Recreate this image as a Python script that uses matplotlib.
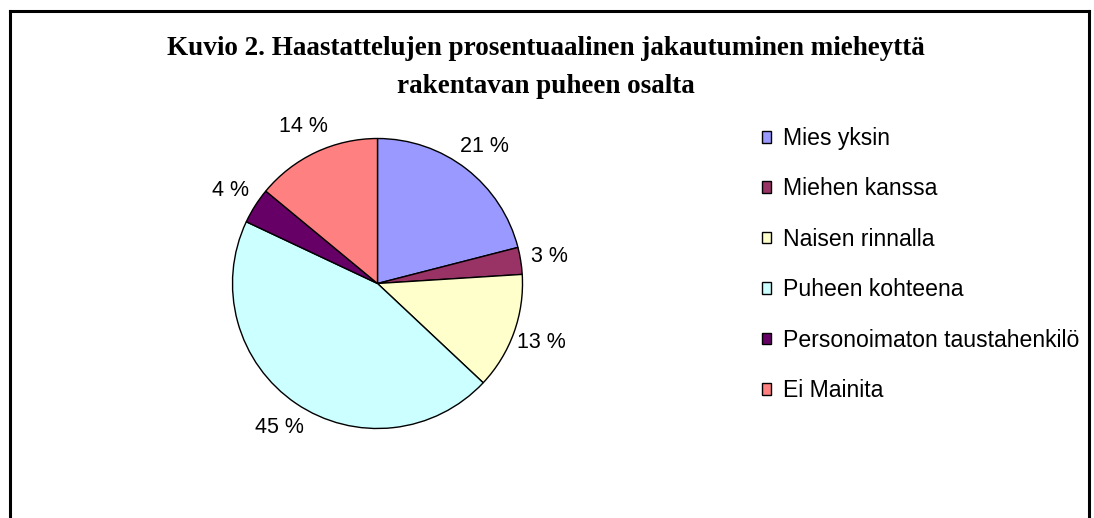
import matplotlib
matplotlib.use("Agg")
import matplotlib.pyplot as plt
from matplotlib.patches import Patch

categories = ["Mies yksin", "Miehen kanssa", "Naisen rinnalla", "Puheen kohteena",
              "Personoimaton taustahenkilö", "Ei Mainita"]
values = [21, 3, 13, 45, 4, 14]
colors = ["#9999FF", "#993366", "#FFFFCC", "#CCFFFF", "#660066", "#FF8080"]
title = "Kuvio 2. Haastattelujen prosentuaalinen jakautuminen mieheyttä\nrakentavan puheen osalta"

W, H = 1094, 518
fig = plt.figure(figsize=(W / 100, H / 100), dpi=100)

# outer frame (no bottom edge visible)
for xs, ys in [([10, 10], [0, 11]), ([1089, 1089], [0, 11]), ([10, 1089], [11, 11])]:
    fig.add_artist(plt.Line2D([x / W for x in xs],
                              [1 - 11 / H if y == 11 else 0 for y in ys],
                              transform=fig.transFigure, color="black", lw=2.2))

cx, cy, r = 377.5, 283.5, 145
ax = fig.add_axes([(cx - r) / W, (H - cy - r) / H, 2 * r / W, 2 * r / H])
wedges, texts, autotexts = ax.pie(
    values, colors=colors, startangle=90, counterclock=False,
    autopct=lambda p: f"{p:.0f} %", pctdistance=1.2,
    wedgeprops=dict(edgecolor="black", linewidth=1.0),
    textprops=dict(fontsize=15.5, family="Liberation Sans", color="black"))
ax.set_xlim(-1, 1)
ax.set_ylim(-1, 1)
ax.set_aspect("equal")
ax.axis("off")
for t in autotexts:
    t.set_clip_on(False)

fig.text(546 / W, 1 - 67.5 / H, title, ha="center", va="center", fontsize=19.5,
         family="Liberation Serif", weight="bold", linespacing=1.73)

handles = [Patch(facecolor=c, edgecolor="black", linewidth=1.0) for c in colors]
leg = fig.legend(handles, categories, loc="upper left",
                 bbox_to_anchor=(762 / W, 1 - 127 / H),
                 frameon=False, prop=dict(family="Liberation Sans", size=16.6),
                 handlelength=0.4, handleheight=0.4, handletextpad=0.5,
                 labelspacing=1.19, borderaxespad=0, borderpad=0)

fig.savefig("out.png", dpi=100)
